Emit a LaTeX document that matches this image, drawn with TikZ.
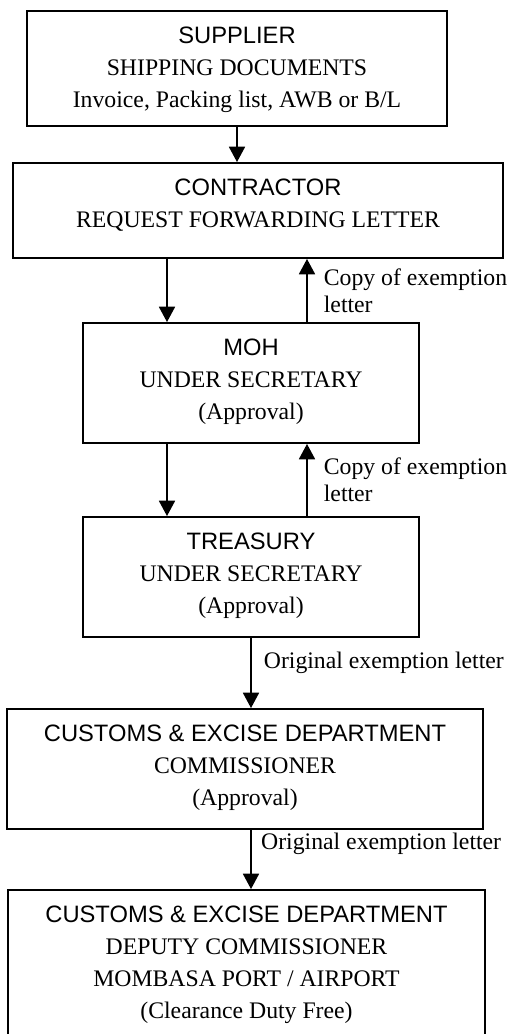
\documentclass[tikz,border=0pt]{standalone}
\usepackage{fontspec}
\setmainfont{Liberation Serif}
\setsansfont{Liberation Sans}
\usetikzlibrary{arrows.meta,positioning,calc}

\newcommand{\boxhead}[1]{{\sffamily #1}}

\tikzset{
	box/.style={draw, line width=1.4pt, inner sep=0pt},
	boxtext/.style={anchor=north, align=center, inner sep=0pt, font=\fontsize{17.8}{24}\selectfont},
	flow/.style={line width=1.3pt, -{Triangle[length=11.5pt,width=12pt]}},
	note/.style={anchor=west, align=left, inner sep=0pt, font=\fontsize{17.8}{20.25}\selectfont},
}

\begin{document}
\begin{tikzpicture}[x=0.75pt,y=0.75pt,yscale=-1]
	\useasboundingbox (0,0) rectangle (509,1034);
	
	% Boxes
	\node[box, minimum width=315pt, minimum height=86.25pt] (sup) at (237,68.5) {};
	\node[box, minimum width=367.5pt, minimum height=71.25pt] (con) at (258,210.5) {};
	\node[box, minimum width=252pt, minimum height=90pt] (moh) at (251,383) {};
	\node[box, minimum width=252pt, minimum height=90pt] (tre) at (251,577) {};
	\node[box, minimum width=357pt, minimum height=90pt] (cus) at (245,769) {};
	\node[box, minimum width=357.75pt, minimum height=112.5pt] (dep) at (246.5,965) {};
	
	% Box texts
	\node[boxtext] (sup-t) at ($(sup.north)+(0,16.5)$) {\boxhead{SUPPLIER}\\SHIPPING DOCUMENTS\\Invoice, Packing list, AWB or B/L};
	\node[boxtext] (con-t) at ($(con.north)+(0,16.5)$) {\boxhead{CONTRACTOR}\\REQUEST FORWARDING LETTER};
	\node[boxtext] (moh-t) at ($(moh.north)+(0,16.5)$) {\boxhead{MOH}\\UNDER SECRETARY\\(Approval)};
	\node[boxtext] (tre-t) at ($(tre.north)+(0,16.5)$) {\boxhead{TREASURY}\\UNDER SECRETARY\\(Approval)};
	\node[boxtext] (cus-t) at ($(cus.north)+(0,16.5)$) {\boxhead{CUSTOMS \& EXCISE DEPARTMENT}\\COMMISSIONER\\(Approval)};
	\node[boxtext] (dep-t) at ($(dep.north)+(0,16.5)$) {\boxhead{CUSTOMS \& EXCISE DEPARTMENT}\\DEPUTY COMMISSIONER\\MOMBASA PORT / AIRPORT\\(Clearance Duty Free)};
	
	% Arrow ends
	\coordinate (mohL) at ([xshift=-63pt]moh.north);
	\coordinate (mohR) at ([xshift=42pt]moh.north);
	\coordinate (treL) at ([xshift=-63pt]tre.north);
	\coordinate (treR) at ([xshift=42pt]tre.north);
	\coordinate (cusA) at ([xshift=4.5pt]cus.south);
	
	% Connections
	\draw[flow] (sup.south) -- (sup.south |- con.north);
	\draw[flow] (mohL |- con.south) -- (mohL);
	\draw[flow] (mohR) -- (mohR |- con.south) node[note, midway, xshift=12pt] {Copy of exemption\\letter};
	\draw[flow] (treL |- moh.south) -- (treL);
	\draw[flow] (treR) -- (treR |- moh.south) node[note, midway, xshift=12pt] {Copy of exemption\\letter};
	\draw[flow] (tre.south) -- (tre.south |- cus.north) node[note, pos=0.35, xshift=9pt] {Original exemption letter};
	\draw[flow] (cusA) -- (cusA |- dep.north) node[note, pos=0.23, xshift=7pt] {Original exemption letter};
	
\end{tikzpicture}
\end{document}
